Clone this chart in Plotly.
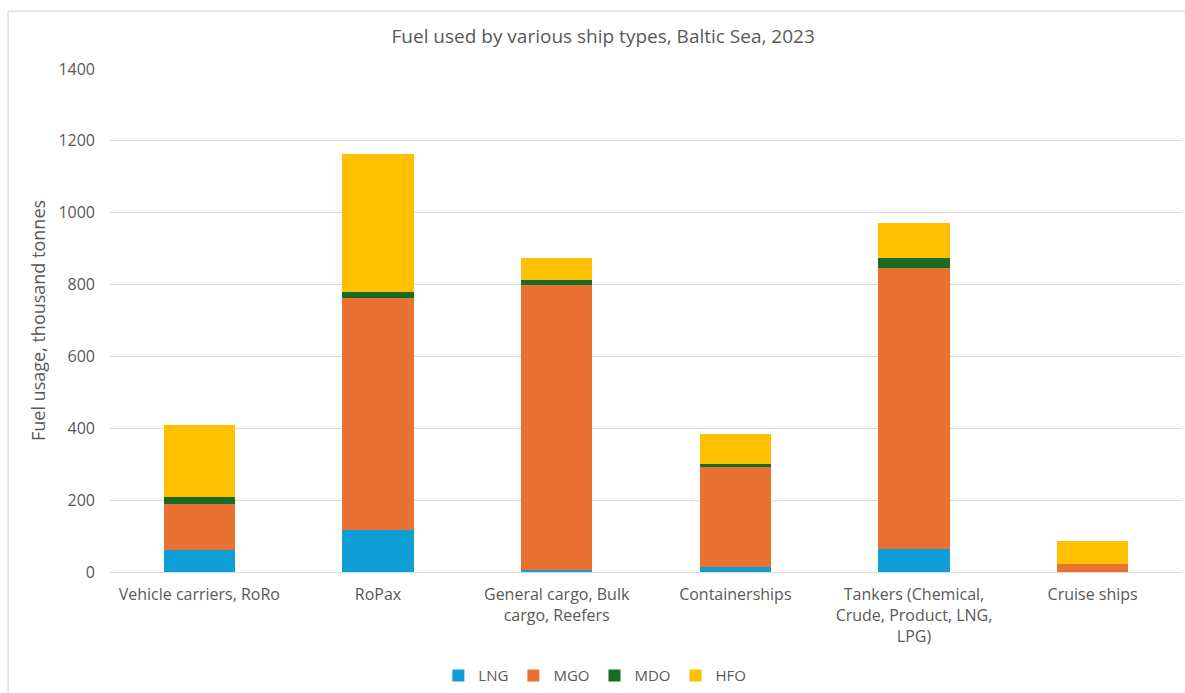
import plotly.graph_objects as go

ship_types = [
    "Vehicle carriers, RoRo",
    "RoPax",
    "General cargo, Bulk<br>cargo, Reefers",
    "Containerships",
    "Tankers (Chemical,<br>Crude, Product, LNG,<br>LPG)",
    "Cruise ships",
]

# thousand tonnes
lng = [62, 116, 5, 14, 64, 0]
mgo = [126, 647, 795, 277, 782, 22]
mdo = [20, 15, 12, 11, 28, 0]
hfo = [202, 385, 63, 83, 98, 64]

series = [
    ("LNG", lng, "#0F9ED5"),
    ("MGO", mgo, "#E97132"),
    ("MDO", mdo, "#196B24"),
    ("HFO", hfo, "#FFC000"),
]

fig = go.Figure()
for name, values, colour in series:
    fig.add_trace(go.Bar(
        x=ship_types,
        y=values,
        name=name,
        marker=dict(color=colour, line=dict(width=0)),
    ))

font_family = "Open Sans, Lato, sans-serif"
text_grey = "#595959"

fig.update_layout(
    barmode="stack",
    bargap=0.6,
    width=1185,
    height=693,
    margin=dict(l=110, r=3, t=69, b=121, autoexpand=False),
    paper_bgcolor="white",
    plot_bgcolor="white",
    font=dict(family=font_family, color=text_grey, size=16),
    title=dict(
        text="Fuel used by various ship types, Baltic Sea, 2023",
        xref="container", x=0.509, xanchor="center",
        yref="container", y=0.947, yanchor="middle",
        font=dict(size=19, color=text_grey),
    ),
    yaxis=dict(
        range=[0, 1400],
        dtick=200,
        showgrid=True,
        gridcolor="#D9D9D9",
        gridwidth=1,
        zeroline=False,
        showline=False,
        automargin=False,
        tickfont=dict(size=16, color=text_grey),
        ticklabelstandoff=14,
        title=dict(text="Fuel usage, thousand tonnes",
                   font=dict(size=18, color=text_grey), standoff=8),
    ),
    xaxis=dict(
        showline=True,
        linecolor="#D9D9D9",
        linewidth=1,
        automargin=False,
        tickfont=dict(size=16, color=text_grey),
        ticks="",
        tickangle=0,
        ticklabelstandoff=8,
    ),
    legend=dict(
        orientation="h",
        xref="container", x=0.502, xanchor="center",
        yref="container", y=0.025, yanchor="middle",
        font=dict(size=15, color=text_grey),
        itemwidth=30,
        traceorder="normal",
    ),
    shapes=[
        # thin frame around the chart area as in the original export
        dict(type="line", xref="paper", yref="paper",
             x0=-0.0951, x1=-0.0951, y0=1.115, y1=-0.25,
             line=dict(color="#D0D0D0", width=1)),
        dict(type="line", xref="paper", yref="paper",
             x0=-0.0951, x1=1.01, y0=1.115, y1=1.115,
             line=dict(color="#D0D0D0", width=1)),
    ],
)

fig.write_html(
    "out.html",
    config={"displayModeBar": False},
    post_script="document.body.style.margin='0';document.body.style.overflow='hidden';",
)
